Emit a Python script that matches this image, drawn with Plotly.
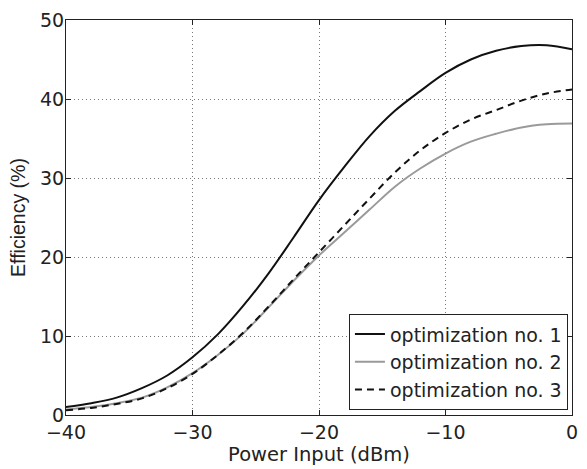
import plotly.graph_objects as go

# power input (dBm)
power_in = [-40, -38, -36, -34, -32, -30, -28, -26, -24, -22, -20,
            -18, -16, -14, -12, -10, -8, -6, -4, -2, 0]

# efficiency (%) for each optimization
eff_opt1 = [1.0, 1.5, 2.2, 3.4, 5.0, 7.3, 10.2, 13.8, 17.9, 22.5, 27.2,
            31.4, 35.3, 38.5, 41.0, 43.3, 45.0, 46.1, 46.7, 46.8, 46.3]
eff_opt2 = [0.7, 1.0, 1.5, 2.2, 3.5, 5.3, 7.6, 10.3, 13.6, 17.0, 20.2,
            23.1, 26.0, 28.9, 31.2, 33.1, 34.6, 35.6, 36.4, 36.8, 36.9]
eff_opt3 = [0.6, 0.9, 1.4, 2.1, 3.4, 5.2, 7.6, 10.4, 13.7, 17.2, 20.6,
            24.0, 27.4, 30.7, 33.5, 35.7, 37.4, 38.6, 39.8, 40.7, 41.2]

x_ticks = [-40, -30, -20, -10, 0]
y_ticks = [0, 10, 20, 30, 40, 50]

wide_font = "DejaVu Sans, Verdana, sans-serif"
narrow_font = "Liberation Sans, Arial, Helvetica, sans-serif"
ink = "#222222"

fig = go.Figure()
fig.add_trace(go.Scatter(x=power_in, y=eff_opt1, mode="lines", name="optimization no. 1",
                         line=dict(color="#111111", width=2, shape="spline")))
fig.add_trace(go.Scatter(x=power_in, y=eff_opt2, mode="lines", name="optimization no. 2",
                         line=dict(color="#9a9a9a", width=2, shape="spline")))
fig.add_trace(go.Scatter(x=power_in, y=eff_opt3, mode="lines", name="optimization no. 3",
                         line=dict(color="#111111", width=2, dash="7px,5px", shape="spline")))

axis_style = dict(
    showline=True, linecolor=ink, linewidth=1, mirror="allticks",
    ticks="inside", ticklen=5, tickcolor=ink, ticklabeloverflow="allow",
    showgrid=True, gridcolor="#777777", gridwidth=1, griddash="1px,3px",
    zeroline=False, tickfont=dict(family=wide_font, size=19, color=ink),
)

fig.update_xaxes(range=[-40, 0], tickvals=x_ticks,
                 title=dict(text="Power Input (dBm)",
                            font=dict(family=wide_font, size=19.5, color=ink), standoff=0),
                 **axis_style)
fig.update_yaxes(range=[0, 50], tickvals=y_ticks, ticklabelstandoff=-3,
                 title=dict(text="Efficiency (%)",
                            font=dict(family=narrow_font, size=19.5, color=ink), standoff=9),
                 **axis_style)

fig.update_layout(
    width=587, height=469,
    margin=dict(l=66, r=9, t=11, b=54),
    paper_bgcolor="white", plot_bgcolor="white",
    font=dict(family=wide_font, color=ink),
    showlegend=True,
    legend=dict(x=0.992, y=0.012, xanchor="right", yanchor="bottom",
                bgcolor="white", bordercolor=ink, borderwidth=1,
                font=dict(family=wide_font, size=19, color=ink), tracegroupgap=0),
)

# the browser's default body margin would push the 587x469 figure off the page
fig.write_html("out.html", config={"displayModeBar": False},
               post_script="document.body.style.margin = '0';")
